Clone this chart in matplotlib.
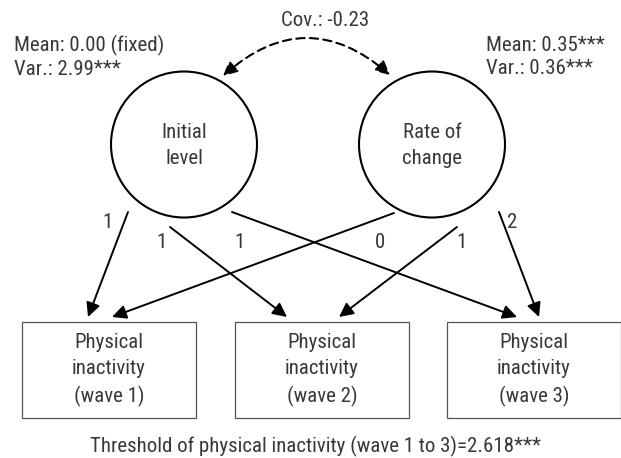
import matplotlib.pyplot as plt
from matplotlib.patches import Circle, Rectangle, FancyArrowPatch

# model values
latent_names = ["Initial\nlevel", "Rate of\nchange"]
latent_stats = ["Mean: 0.00 (fixed)\nVar.: 2.99***", "Mean: 0.35***\nVar.: 0.36***"]
covariance = "Cov.: -0.23"
wave_names = ["Physical\ninactivity\n(wave 1)", "Physical\ninactivity\n(wave 2)", "Physical\ninactivity\n(wave 3)"]
intercept_loadings = ["1", "1", "1"]
slope_loadings = ["0", "1", "2"]
threshold = "Threshold of physical inactivity (wave 1 to 3)=2.618***"

FONT = ["Roboto Condensed", "Liberation Sans Narrow", "Roboto"]
TXT = "#383838"
FS = 15

fig = plt.figure(figsize=(6.21, 4.58), dpi=100)
ax = fig.add_axes([0, 0, 1, 1])
ax.set_xlim(0, 621)
ax.set_ylim(458, 0)
ax.axis("off")

# layout (pixels)
circ_x = [184, 432]
circ_y = 144.5
r = 73
box_left = [22, 235, 447]
box_w = 174
box_top, box_h = 322, 96

for cx, name in zip(circ_x, latent_names):
    ax.add_patch(Circle((cx, circ_y), r, fill=False, lw=1.5, ec="black"))
    ax.text(cx, circ_y + 1, name, ha="center", va="center", fontsize=FS,
            family=FONT, color=TXT, linespacing=1.45)

ax.text(14, 57, latent_stats[0], ha="left", va="center", fontsize=FS,
        family=FONT, color=TXT, linespacing=1.24)
ax.text(486, 57, latent_stats[1], ha="left", va="center", fontsize=FS,
        family=FONT, color=TXT, linespacing=1.24)
ax.text(325, 20, covariance, ha="center", va="center", fontsize=FS,
        family=FONT, color=TXT)

for bx, name in zip(box_left, wave_names):
    ax.add_patch(Rectangle((bx, box_top), box_w, box_h, fill=False, lw=0.9, ec="#555555"))
    ax.text(bx + box_w / 2, box_top + box_h / 2, name, ha="center", va="center",
            fontsize=FS, family=FONT, color=TXT, linespacing=1.48)

# covariance arc
ax.add_patch(FancyArrowPatch((223, 76), (390, 75), connectionstyle="arc3,rad=-0.44",
                             arrowstyle="<|-|>,head_length=0.85,head_width=0.42",
                             mutation_scale=10, lw=1.5, ls=(0, (4, 2.5)), color="black",
                             shrinkA=0, shrinkB=0))

# loading paths: (start, end)
int_paths = [((128, 212), (88, 317)), ((170, 227), (287, 317)), ((232, 212), (517, 317))]
slope_paths = [((394, 213), (112, 317)), ((457, 227), (339, 317)), ((499, 212), (539, 317))]
int_lab_pos = [(107, 222), (161, 242), (239, 242)]
slope_lab_pos = [(380, 243), (461, 243), (512, 222)]

for (s, e) in int_paths + slope_paths:
    ax.add_patch(FancyArrowPatch(s, e, arrowstyle="-|>,head_length=0.85,head_width=0.42",
                                 mutation_scale=10, lw=1.4, color="black",
                                 shrinkA=0, shrinkB=0))

for (x, y), lab in zip(int_lab_pos + slope_lab_pos, intercept_loadings + slope_loadings):
    ax.text(x, y, lab, ha="center", va="center", fontsize=FS, family=FONT, color=TXT)

ax.text(316, 446, threshold, ha="center", va="center", fontsize=FS, family=FONT, color=TXT)

fig.savefig("out.png", dpi=100)
